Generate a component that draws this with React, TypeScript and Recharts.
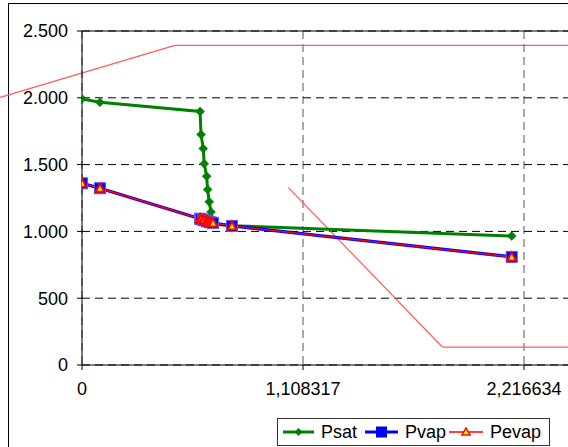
import React from "react";
import {
  ComposedChart,
  Line,
  XAxis,
  YAxis,
  CartesianGrid,
  ReferenceLine,
  Legend,
} from "recharts";

// ---- data ----
const xValues = [0, 0.09, 0.592, 0.597, 0.608, 0.613, 0.625, 0.63, 0.638, 0.647, 0.657, 0.752, 2.155];
const psatValues = [1992, 1966, 1898, 1726, 1620, 1507, 1413, 1313, 1221, 1146, 1054, 1043, 966];
const pvapValues = [1360, 1323, 1095, 1091, 1087, 1083, 1079, 1075, 1071, 1067, 1063, 1041, 809];
const pevapValues = [1360, 1323, 1095, 1091, 1087, 1083, 1079, 1075, 1071, 1067, 1063, 1041, 809];

const xTicks = [0, 1.108317, 2.216634];
const xMax = 3.324951;
const yTicks = [0, 500, 1000, 1500, 2000, 2500];

// annotation lines (drawn shapes in the original)
const redLine1X = [-0.411, 0.466, 3.4];
const redLine1Y = [2003, 2392, 2392];
const redLine2X = [1.035, 1.807, 3.4];
const redLine2Y = [1328, 134.5, 134.5];

const seriesNames = ["Psat", "Pvap", "Pevap"];

const data = xValues.map((x, i) => ({
  x,
  psat: psatValues[i],
  pvap: pvapValues[i],
  pevap: pevapValues[i],
}));

const FONT = "'Liberation Sans', Arial, sans-serif";

const fmtY = (v: number) =>
  v >= 1000 ? `${Math.floor(v / 1000)}.${String(v % 1000).padStart(3, "0")}` : String(v);
const fmtX = (v: number) => String(v).replace(".", ",");

const Diamond = (p: any) => {
  const { cx, cy, index } = p;
  if (cx == null || cy == null) return <g key={`d${index}`} />;
  const s = 4.5;
  return (
    <path
      key={`d${index}`}
      d={`M${cx},${cy - s}L${cx + s},${cy}L${cx},${cy + s}L${cx - s},${cy}Z`}
      fill="#008000"
      stroke="#008000"
      strokeWidth={0.5}
    />
  );
};

const Square = (p: any) => {
  const { cx, cy, index } = p;
  if (cx == null || cy == null) return <g key={`s${index}`} />;
  return (
    <rect
      key={`s${index}`}
      x={cx - 5.5}
      y={cy - 5.5}
      width={11}
      height={11}
      fill="#0000FF"
      stroke="#5a5aff"
      strokeWidth={1}
    />
  );
};

const Triangle = (p: any) => {
  const { cx, cy, index } = p;
  if (cx == null || cy == null) return <g key={`t${index}`} />;
  return (
    <polygon
      key={`t${index}`}
      points={`${cx},${cy - 4.5} ${cx + 4.2},${cy + 3.5} ${cx - 4.2},${cy + 3.5}`}
      fill="#FFFF00"
      stroke="#FF0000"
      strokeWidth={2}
      strokeLinejoin="miter"
    />
  );
};

const LegendBox = () => {
  const item = (name: string, icon: React.ReactNode, iconW: number, ml: number, textW: number) => (
    <div style={{ display: "flex", alignItems: "center", marginLeft: ml }} key={name}>
      <svg width={iconW} height={14} style={{ display: "block" }}>
        {icon}
      </svg>
      <span style={{ marginLeft: 7, width: textW, whiteSpace: "nowrap" }}>{name}</span>
    </div>
  );
  return (
    <div
      style={{
        boxSizing: "border-box",
        width: 273,
        height: 28,
        border: "1px solid #333",
        background: "#fff",
        display: "flex",
        alignItems: "center",
        fontFamily: FONT,
        fontSize: 18,
        color: "#000",
        lineHeight: "20px",
      }}
    >
      {item(
        seriesNames[0],
        <g>
          <line x1={0} y1={7} x2={31} y2={7} stroke="#008000" strokeWidth={3} />
          <path d="M15.5,3L19.5,7L15.5,11L11.5,7Z" fill="#008000" />
        </g>,
        31,
        5,
        36
      )}
      {item(
        seriesNames[1],
        <g>
          <line x1={0} y1={7} x2={33} y2={7} stroke="#0000FF" strokeWidth={3} />
          <rect x={11} y={1.5} width={11} height={11} fill="#0000FF" />
        </g>,
        33,
        8,
        42
      )}
      {item(
        seriesNames[2],
        <g>
          <line x1={0} y1={7} x2={34} y2={7} stroke="#FF0000" strokeWidth={1.5} />
          <polygon points="17,3 21,10 13,10" fill="#FFFF00" stroke="#FF0000" strokeWidth={1.5} />
        </g>,
        34,
        2,
        52
      )}
    </div>
  );
};

export default function App() {
  const seg1 = redLine1X.slice(0, -1).map((x, i) => [
    { x, y: redLine1Y[i] },
    { x: redLine1X[i + 1], y: redLine1Y[i + 1] },
  ]);
  const seg2 = redLine2X.slice(0, -1).map((x, i) => [
    { x, y: redLine2Y[i] },
    { x: redLine2X[i + 1], y: redLine2Y[i + 1] },
  ]);
  return (
    <div
      style={{
        position: "fixed",
        left: 0,
        top: 0,
        width: 568,
        height: 447,
        overflow: "hidden",
        background: "#fff",
      }}
    >
      <div
        style={{
          position: "absolute",
          left: 8,
          top: 3,
          width: 810,
          height: 460,
          border: "1px solid #000",
          boxSizing: "border-box",
        }}
      />
      <div style={{ position: "absolute", left: 0, top: 0 }}>
        <ComposedChart
          width={820}
          height={460}
          data={data}
          margin={{ top: 31, right: 75, bottom: 65, left: 0 }}
          style={{ fontFamily: FONT }}
        >
          <CartesianGrid
            horizontal={false}
            stroke="#555"
            strokeDasharray="8 5"
            verticalValues={[...xTicks, xMax]}
          />
          <CartesianGrid
            vertical={false}
            stroke="#000"
            strokeDasharray="8 5"
            horizontalValues={yTicks}
          />
          <XAxis
            type="number"
            dataKey="x"
            domain={[0, xMax]}
            ticks={xTicks}
            tickFormatter={fmtX}
            interval={0}
            allowDataOverflow
            height={30}
            tickSize={5}
            tickMargin={12}
            stroke="#000"
            tick={{ fill: "#000", fontSize: 18, fontFamily: FONT }}
          />
          <YAxis
            type="number"
            domain={[0, 2500]}
            ticks={yTicks}
            tickFormatter={fmtY}
            interval={0}
            allowDataOverflow
            width={82}
            tickSize={5}
            tickMargin={9}
            stroke="#000"
            tick={{ fill: "#000", fontSize: 18, fontFamily: FONT }}
          />
          <ReferenceLine y={2500} stroke="#000" strokeWidth={1} />
          {seg1.concat(seg2).map((s, i) => (
            <ReferenceLine
              key={`r${i}`}
              segment={s}
              stroke="#FF5A5A"
              strokeWidth={1.2}
              ifOverflow="visible"
            />
          ))}
          <Line
            type="linear"
            dataKey="psat"
            name={seriesNames[0]}
            stroke="#008000"
            strokeWidth={3}
            dot={Diamond}
            activeDot={false}
            isAnimationActive={false}
          />
          <Line
            type="linear"
            dataKey="pvap"
            name={seriesNames[1]}
            stroke="#0000FF"
            strokeWidth={3.2}
            dot={Square}
            activeDot={false}
            isAnimationActive={false}
          />
          <Line
            type="linear"
            dataKey="pevap"
            name={seriesNames[2]}
            stroke="#FF0000"
            strokeWidth={1.4}
            dot={Triangle}
            activeDot={false}
            isAnimationActive={false}
          />
          <Legend
            layout="horizontal"
            verticalAlign="middle"
            align="center"
            content={() => <LegendBox />}
            wrapperStyle={{ position: "absolute", left: 277, top: 418, width: 273, height: 28 }}
          />
        </ComposedChart>
      </div>
    </div>
  );
}
